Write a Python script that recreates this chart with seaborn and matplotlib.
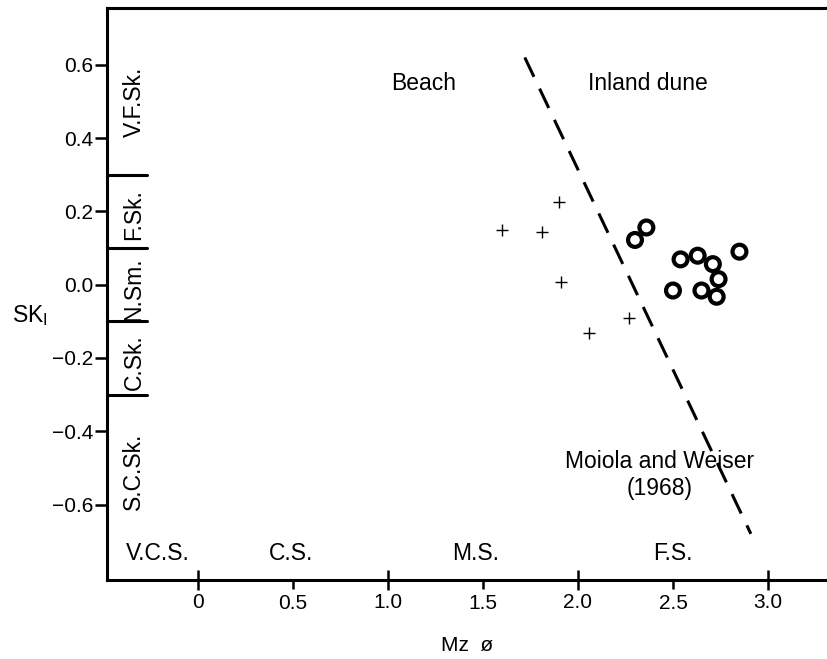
import numpy as np
import pandas as pd
import matplotlib
matplotlib.use("Agg")
import matplotlib.pyplot as plt
from matplotlib.ticker import FixedLocator, FuncFormatter
import seaborn as sns

# Données (Mz en phi, SK_I)
beach_mz = [1.60, 1.81, 1.90, 1.91, 2.06, 2.27]
beach_sk = [0.150, 0.145, 0.225, 0.006, -0.133, -0.092]
dune_mz = [2.30, 2.36, 2.54, 2.63, 2.71, 2.85, 2.74, 2.50, 2.65, 2.73]
dune_sk = [0.122, 0.156, 0.069, 0.079, 0.056, 0.090, 0.015, -0.016, -0.016, -0.033]

# Ligne de Moiola et Weiser (1968)
mw_mz = [1.72, 2.91]
mw_sk = [0.62, -0.68]

# Classes de skewness (limites et noms)
sk_bounds = [0.3, 0.1, -0.1, -0.3]
sk_classes = ["V.F.Sk.", "F.Sk.", "N.Sm.", "C.Sk.", "S.C.Sk."]
sk_class_mid = [0.50, 0.19, -0.012, -0.211, -0.51]

# Classes granulométriques
size_classes = ["V.C.S.", "C.S.", "M.S.", "F.S."]
size_class_mid = [-0.21, 0.49, 1.46, 2.50]

x_major = [0, 1, 2, 3]
x_major_labels = ["0", "1.0", "2.0", "3.0"]
x_minor = [0.5, 1.5, 2.5]
x_minor_labels = ["0.5", "1.5", "2.5"]
y_ticks = [-0.6, -0.4, -0.2, 0.0, 0.2, 0.4, 0.6]

sns.set_theme(style="ticks")
plt.rcParams['font.family'] = ['Liberation Sans', 'DejaVu Sans']
plt.rcParams['text.color'] = 'black'
plt.rcParams['axes.labelcolor'] = 'black'
plt.rcParams['xtick.color'] = 'black'
plt.rcParams['ytick.color'] = 'black'

beach = pd.DataFrame({"Mz": beach_mz, "SK": beach_sk})
dune = pd.DataFrame({"Mz": dune_mz, "SK": dune_sk})

fig = plt.figure(figsize=(8.28, 6.59), dpi=100)
ax = fig.add_axes([107 / 828, 1 - 580 / 659, 1 - 107 / 828, 572 / 659])

sns.scatterplot(data=beach, x="Mz", y="SK", marker="+", s=75, color="black",
                linewidth=1.0, ax=ax, zorder=3)
sns.scatterplot(data=dune, x="Mz", y="SK", marker="o", s=100, facecolor="none",
                edgecolor="black", linewidth=3.0, ax=ax, zorder=3)
ax.plot(mw_mz, mw_sk, color="black", lw=2.2, dashes=(7, 4.3))

ax.set_xlim(-0.479, 3.316)
ax.set_ylim(-0.806, 0.755)

for s in ["left", "bottom", "top"]:
    ax.spines[s].set_linewidth(2.2)
    ax.spines[s].set_color("black")
ax.spines["right"].set_visible(False)

# Axe x : limites de classes aux entiers, graduations intermédiaires
ax.set_xticks(x_major, labels=x_major_labels)
ax.set_xticks(x_minor, labels=x_minor_labels, minor=True)
ax.tick_params(axis="x", which="major", direction="inout", length=15, width=1.8,
               pad=2, labelsize=15)
ax.tick_params(axis="x", which="minor", direction="out", length=6.5, width=1.8,
               pad=3.5, labelsize=15)

ax.set_yticks(y_ticks)
ax.yaxis.set_major_formatter(FuncFormatter(lambda v, p: f"{v:.1f}".replace("-", "\u2212")))
ax.tick_params(axis="y", which="major", direction="out", length=9, width=1.8,
               pad=1, labelsize=15)

# Limites des classes de skewness
for b in sk_bounds:
    ax.axhline(b, xmin=0, xmax=0.055, color="black", lw=2.2)
for name, ym in zip(sk_classes, sk_class_mid):
    ax.text(-0.337, ym, name, rotation=90, ha="center", va="center", fontsize=16.5)

for name, xm in zip(size_classes, size_class_mid):
    ax.text(xm, -0.735, name, ha="center", va="center", fontsize=16.5)

ax.text(1.19, 0.55, "Beach", ha="center", va="center", fontsize=16.5)
ax.text(2.37, 0.55, "Inland dune", ha="center", va="center", fontsize=16.5)
ax.text(2.43, -0.52, "Moiola and Weiser\n(1968)", ha="center", va="center",
        fontsize=16.5, linespacing=1.25)

ax.set_xlabel("Mz  ø", fontsize=15)
ax.xaxis.set_label_coords(0.5, -0.114)
ax.xaxis.label.set_va("center")
ax.set_ylabel(r"SK$_\mathregular{I}$", fontsize=16.5, rotation=0)
ax.yaxis.set_label_coords(-0.107, 0.463)
ax.yaxis.label.set_va("center")
ax.yaxis.label.set_ha("center")

fig.savefig("out.png", dpi=100)
